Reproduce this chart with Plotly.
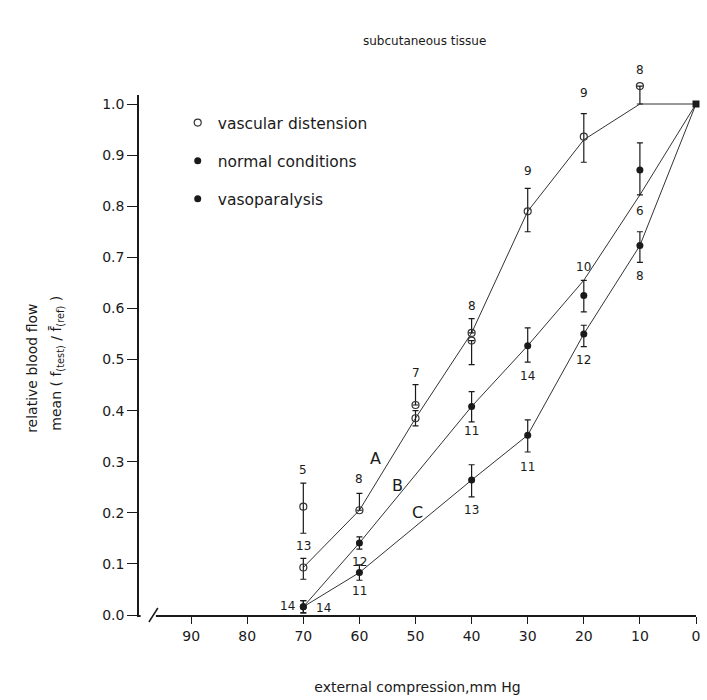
import plotly.graph_objects as go

# ---------------- data ----------------
x_tick_vals = [90, 80, 70, 60, 50, 40, 30, 20, 10, 0]
y_tick_vals = [0.0, 0.1, 0.2, 0.3, 0.4, 0.5, 0.6, 0.7, 0.8, 0.9, 1.0]

curveA_x = [70, 60, 50, 40, 30, 20, 10, 0]
curveA_y = [0.093, 0.205, 0.385, 0.552, 0.79, 0.93, 1.0, 1.0]
curveB_x = [70, 60, 40, 30, 20, 10, 0]
curveB_y = [0.016, 0.141, 0.408, 0.527, 0.655, 0.822, 1.0]
curveC_x = [70, 60, 40, 30, 20, 10, 0]
curveC_y = [0.016, 0.083, 0.264, 0.352, 0.55, 0.723, 1.0]

vd_x = [70, 70, 60, 50, 50, 40, 40, 30, 20, 10]
vd_y = [0.212, 0.093, 0.205, 0.411, 0.385, 0.552, 0.537, 0.79, 0.936, 1.035]
vd_plus = [0.046, 0.018, 0.033, 0.04, 0.015, 0.028, 0.0, 0.045, 0.045, 0.0]
vd_minus = [0.052, 0.023, 0.0, 0.0, 0.015, 0.0, 0.047, 0.04, 0.05, 0.035]

nc_x = [70, 60, 40, 30, 20, 10, 0]
nc_y = [0.016, 0.141, 0.408, 0.527, 0.625, 0.871, 1.0]
nc_plus = [0.012, 0.012, 0.029, 0.035, 0.03, 0.053, 0.0]
nc_minus = [0.012, 0.012, 0.03, 0.032, 0.032, 0.049, 0.0]

vp_x = [70, 60, 40, 30, 20, 10]
vp_y = [0.016, 0.083, 0.264, 0.352, 0.55, 0.723]
vp_plus = [0.012, 0.015, 0.03, 0.03, 0.017, 0.027]
vp_minus = [0.012, 0.015, 0.033, 0.033, 0.025, 0.033]

n_text = ["5", "13", "14", "14", "8", "12", "11", "7", "8", "11", "13",
          "9", "14", "11", "10", "12", "9", "8", "6", "8"]
n_x = [70, 70, 72.9, 66.4, 60, 60, 60, 50, 40, 40, 40,
       30, 30, 30, 20, 20, 20, 10, 10, 10]
n_y = [0.283, 0.136, 0.018, 0.014, 0.267, 0.104, 0.046, 0.474, 0.604, 0.36, 0.205,
       0.868, 0.468, 0.29, 0.681, 0.499, 1.022, 1.085, 0.79, 0.663]

curve_labels = ["A", "B", "C"]
curve_label_x = [57.1, 53.2, 49.7]
curve_label_y = [0.306, 0.254, 0.2]

FONT = "DejaVu Sans"
INK = "#1a1a1a"

W, H = 707, 700
# plot area in pixels: left 139, right 700 (x=0), bottom 615 (y=0), 1.0 at 104
L, R, B = 139, 700, 615
X_PER_UNIT = 5.65
Y_PER_UNIT = 511.0
AXIS_TOP = 95                       # visible top of the y-axis line
XMAX = (R - L) / X_PER_UNIT
Y_TOP = 1.045                       # data range top (so the top open circle shows)
TOP_PX = B - Y_TOP * Y_PER_UNIT


def px(xs):  # pixel x -> paper
    return (xs - L) / (R - L)


def py(ys):  # pixel y -> paper
    return (B - ys) / (B - TOP_PX)


fig = go.Figure()

for cx, cy in [(curveA_x, curveA_y), (curveB_x, curveB_y), (curveC_x, curveC_y)]:
    fig.add_trace(go.Scatter(x=cx, y=cy, mode="lines", showlegend=False,
                             line=dict(color="#333333", width=1), hoverinfo="skip",
                             cliponaxis=False))


def ebar(p, m):
    return dict(type="data", symmetric=False, array=p, arrayminus=m,
                color=INK, thickness=1.2, width=3)


fig.add_trace(go.Scatter(x=vd_x, y=vd_y, mode="markers", name="vascular distension",
                         legendgroup="g1", cliponaxis=False,
                         marker=dict(symbol="circle-open", size=7, color="#333333",
                                     line=dict(width=1.2, color="#333333")),
                         error_y=ebar(vd_plus, vd_minus)))
fig.add_trace(go.Scatter(x=nc_x, y=nc_y, mode="markers", name="normal conditions",
                         legendgroup="g2", cliponaxis=False,
                         marker=dict(symbol=["circle"] * (len(nc_x) - 1) + ["square"],
                                     size=7, color=INK),
                         error_y=ebar(nc_plus, nc_minus)))
fig.add_trace(go.Scatter(x=vp_x, y=vp_y, mode="markers", name="vasoparalysis",
                         legendgroup="g3", cliponaxis=False,
                         marker=dict(symbol="circle", size=7, color=INK),
                         error_y=ebar(vp_plus, vp_minus)))

annotations = []
for t, x, y in zip(n_text, n_x, n_y):
    if y <= Y_TOP:
        annotations.append(dict(x=x, y=y, xref="x", yref="y", text=t, showarrow=False,
                                font=dict(family=FONT, size=12, color=INK)))
    else:
        annotations.append(dict(x=x, y=y / Y_TOP, xref="x", yref="paper", text=t,
                                showarrow=False, font=dict(family=FONT, size=12, color=INK)))
for t, x, y in zip(curve_labels, curve_label_x, curve_label_y):
    annotations.append(dict(x=x, y=y, xref="x", yref="y", text=t, showarrow=False,
                            font=dict(family=FONT, size=16, color=INK)))

annotations += [
    dict(x=px(427), y=py(32), xref="paper", yref="paper", text="subcutaneous tissue",
         showarrow=False, font=dict(family=FONT, size=12, color=INK)),
    dict(x=px(21), y=py(368), xref="paper", yref="paper", text="relative blood flow",
         textangle=-90, showarrow=False, font=dict(family=FONT, size=14, color=INK)),
    dict(x=px(45), y=py(363), xref="paper", yref="paper",
         text="mean ( f<sub>(test)</sub> / f\u0304<sub>(ref)</sub> )",
         textangle=-90, showarrow=False, font=dict(family=FONT, size=14, color=INK)),
]

shapes = [
    # hide the y-axis line above its visible top (~1.02)
    dict(type="rect", xref="paper", yref="paper", x0=px(130), x1=px(146),
         y0=py(AXIS_TOP), y1=1.02, fillcolor="white", line=dict(width=0), layer="above"),
    # gap in the x-axis line next to the y-axis, plus the break mark
    dict(type="rect", xref="paper", yref="paper", x0=px(140.6), x1=px(156),
         y0=py(618), y1=py(612), fillcolor="white", line=dict(width=0), layer="above"),
    dict(type="line", xref="paper", yref="paper", x0=px(149), y0=py(622),
         x1=px(158), y1=py(608), line=dict(color=INK, width=1.5), layer="above"),
]

fig.update_layout(
    width=W, height=H,
    margin=dict(l=L, r=W - R, t=TOP_PX, b=H - B, pad=0),
    paper_bgcolor="white", plot_bgcolor="white",
    font=dict(family=FONT, color=INK),
    showlegend=True,
    legend=dict(x=px(178), y=py(106), xanchor="left", yanchor="top",
                font=dict(family=FONT, size=15.5, color=INK),
                traceorder="grouped", tracegroupgap=15, bgcolor="rgba(0,0,0,0)"),
    annotations=annotations,
    shapes=shapes,
    xaxis=dict(range=[XMAX, 0], tickvals=x_tick_vals,
               showline=True, linecolor=INK, linewidth=1.5, showgrid=False, zeroline=False,
               ticks="outside", ticklen=7, tickcolor=INK, tickwidth=1.2,
               tickfont=dict(family=FONT, size=14, color=INK),
               title=dict(text="external compression,mm Hg", standoff=40,
                          font=dict(family=FONT, size=14, color=INK))),
    yaxis=dict(range=[0, Y_TOP], tickvals=y_tick_vals, tickformat=".1f",
               showline=True, linecolor=INK, linewidth=1.5, showgrid=False, zeroline=False,
               ticks="outside", ticklen=10, tickcolor=INK, tickwidth=1.2,
               tickfont=dict(family=FONT, size=14, color=INK)),
)

fig.write_html("out.html", config={"displayModeBar": False},
               post_script="document.body.style.margin='0px';")
